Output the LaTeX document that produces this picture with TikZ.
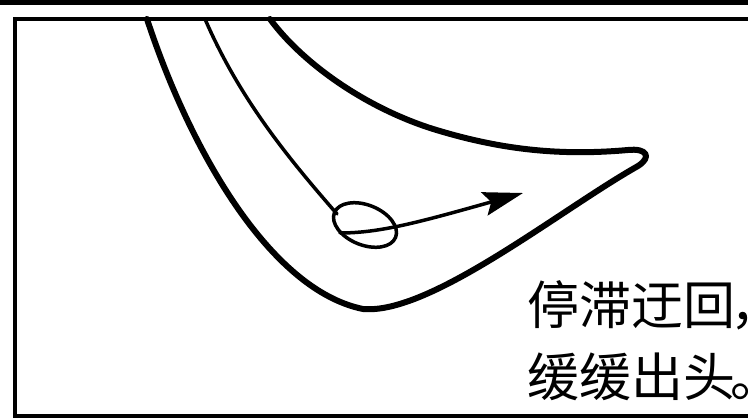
\documentclass[tikz,border=0pt]{standalone}
\usepackage{fontspec}
\newfontfamily\cjk{Noto Sans CJK SC}
\usetikzlibrary{arrows.meta}
\begin{document}
\begin{tikzpicture}[x=1pt,y=-1pt,
  frame/.style={line width=3.5pt,black},
  valley/.style={line width=6pt,black,line join=round,line cap=round},
  track/.style={line width=3.5pt,black,line cap=round},
  caption/.style={font=\cjk\fontsize{52pt}{60pt}\selectfont,inner sep=0pt,anchor=base west}]
  \useasboundingbox (0,0) rectangle (748,418);
  \begin{scope}
    \clip (0,0) rectangle (748,418);
    % top rule and panel frame
    \fill[black] (0,0) rectangle (748,5);
    \draw[frame] (15,19) rectangle (760,416);
    % the valley: left wall, floor, tip and upper wall
    \draw[valley] (147,19) .. controls (190,150) and (270,290) .. (363,309)
      .. controls (430,315) and (560,210) .. (638,166)
      .. controls (652,157) and (647,148) .. (628,150)
      .. controls (560,156) and (500,150) .. (430,128)
      .. controls (360,105) and (300,60) .. (270,19);
    % the path of the ball, its loop and the way out
    \coordinate (start) at (205,19);
    \coordinate (enter) at (337,214);
    \coordinate (loopc) at (365,225);
    \coordinate (out) at (523,193);
    \draw[track] (start) .. controls (240,100) and (290,160) .. (enter);
    \draw[track,rotate around={-22:(loopc)}] (loopc) ellipse [x radius=33pt, y radius=20pt];
    \draw[track,-{Stealth[length=40pt,width=24pt,inset=7pt]}]
      (340,233) .. controls (380,233) and (420,222) .. (out);
  \end{scope}
  % caption, with the closing marks pulled in a little
  \node[caption] (l1) at (527,324) {停滞迂回\kern-5pt\rlap{，}};
  \node[caption] (l2) at (527,396) {缓缓出头\kern-5pt\rlap{。}};
\end{tikzpicture}
\end{document}
